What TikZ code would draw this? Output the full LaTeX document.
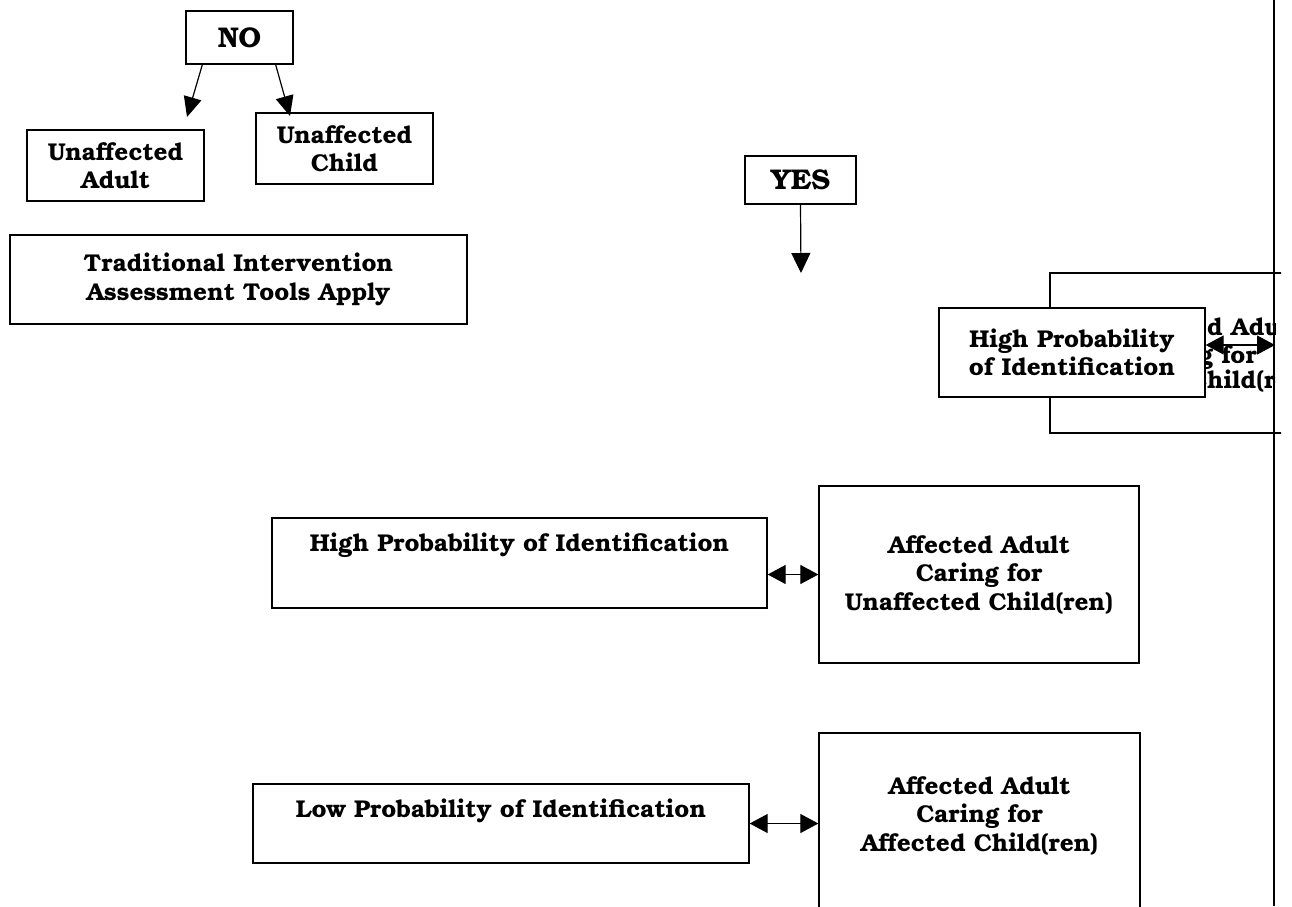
\documentclass[tikz,border=0pt]{standalone}
\usepackage{fontspec}
\setmainfont{texgyrebonum}[Extension=.otf, UprightFont=*-regular, BoldFont=*-bold, ItalicFont=*-italic, BoldItalicFont=*-bolditalic]
\usetikzlibrary{arrows.meta, positioning}

\newcommand\boxfont{\bfseries\fontsize{24.3}{28.5}\selectfont}
\newcommand\bigboxfont{\bfseries\fontsize{28.5}{32}\selectfont}

\tikzset{
	box/.style={draw, line width=1.3pt, fill=white, inner sep=0pt, align=center, font=\boxfont},
	txt/.style={inner sep=0pt, align=center, font=\boxfont},
	arr/.style={line width=1.2pt, -{Triangle[length=20pt,width=18pt]}},
	dbl/.style={line width=1.2pt, {Triangle[length=18pt,width=19pt]}-{Triangle[length=18pt,width=19pt]}}
}

\begin{document}
\begin{tikzpicture}[x=1pt,y=-1pt]
	\useasboundingbox (0,0) rectangle (1292,906);
	% left column, NO branch
	\node[box, font=\bigboxfont, minimum width=107, minimum height=53] (no) at (239.5,37.5) {NO};
	\node[box, minimum width=177, minimum height=71] (uadult) at (115.5,165.5) {Unaffected\\Adult};
	\node[box, minimum width=177, minimum height=71] (uchild) at (344.5,148.5) {Unaffected\\Child};
	\node[box, minimum width=457, minimum height=89] (trad) at (238.5,279.5) {Traditional Intervention\\Assessment Tools Apply};
	\coordinate (adulttip) at (187,117);
	\coordinate (childtip) at (290,116);
	\draw[arr] ([xshift=17pt]no.south west) -- (adulttip);
	\draw[arr] ([xshift=-18pt]no.south east) -- (childtip);

	% YES branch
	\node[box, font=\bigboxfont, minimum width=111, minimum height=48] (yes) at (800.5,180) {YES};
	\coordinate (yestip) at (801,273);
	\draw[line width=1.2pt, -{Triangle[length=20pt,width=19pt]}] (yes.south) -- (yestip);

	% overlapping boxes at the cut edge
	\begin{scope}
		\clip (0,0) rectangle (1281,906);
		\node[box, minimum width=330, minimum height=160] (backbox) at (1215,353) {};
	\end{scope}
	\begin{scope}
		\clip (0,0) rectangle (1275,906);
		\node[txt, anchor=base west] (back1) at (1207,335) {\llap{Affecte}d Adult};
		\node[txt, anchor=base west] (back2) at (1199,363) {\llap{Carin}g for};
		\node[txt, anchor=base west] (back3) at (1207,388) {\llap{Unaffected C}hild(ren)};
	\end{scope}
	\node[box, minimum width=266, minimum height=89] (hiprobtop) at (1072,352.5) {High Probability\\of Identification};
	\coordinate (cutedge) at (1275,345);
	\draw[dbl] (hiprobtop.east |- cutedge) -- (cutedge);
	\draw[line width=1.2pt] (1274,0) -- (1274,906);

	% middle row
	\node[box, minimum width=495, minimum height=90] (hiprob) at (519.5,563) {};
	\node[txt, below=15pt of hiprob.north] (hiprobtxt) {High Probability of Identification};
	\node[box, minimum width=320, minimum height=177] (unaff) at (979,574.5) {Affected Adult\\Caring for\\Unaffected Child(ren)};
	\draw[dbl] (unaff.west -| hiprob.east) -- (unaff.west);

	% bottom row
	\node[box, minimum width=496, minimum height=79] (loprob) at (501,823.5) {};
	\node[txt, below=15pt of loprob.north] (loprobtxt) {Low Probability of Identification};
	\node[box, minimum width=321, minimum height=197] (aff) at (979.5,831.5) {};
	\node[txt, below=44pt of aff.north] (afftxt) {Affected Adult\\Caring for\\Affected Child(ren)};
	\draw[dbl] (loprob.east) -- (loprob.east -| aff.west);
\end{tikzpicture}
\end{document}
